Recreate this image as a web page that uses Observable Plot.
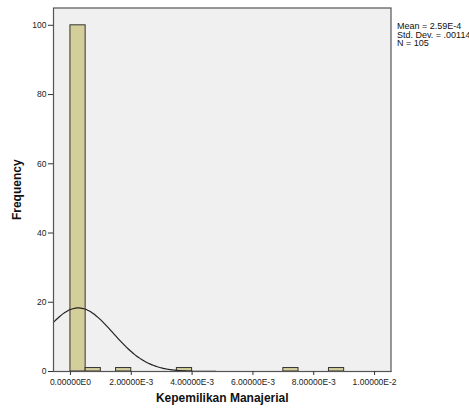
<!DOCTYPE html>
<html>
<head>
<meta charset="utf-8">
<script src="https://cdn.jsdelivr.net/npm/d3@7"></script>
<script src="https://cdn.jsdelivr.net/npm/@observablehq/plot@0.6"></script>
<style>
  html, body { margin: 0; padding: 0; background: #fff; overflow: hidden; }
  #chart { position: relative; width: 469px; height: 412px; overflow: hidden; }
  #legend { position: absolute; left: 397px; top: 22px; font: 9px "Liberation Sans", Arial, sans-serif; color: #111; line-height: 8.5px; white-space: nowrap; }
</style>
</head>
<body>
<div id="chart"><div id="legend"></div></div>
<script>
// Histogram bins (lower edge, upper edge) and counts
const binStart = [0.0000, 0.0005, 0.0015, 0.0035, 0.0070, 0.0085];
const binEnd   = [0.0005, 0.0010, 0.0020, 0.0040, 0.0075, 0.0090];
const counts   = [100, 1, 1, 1, 1, 1];
// Summary statistics shown in the legend
const statLabels = ["Mean = 2.59E-4", "Std. Dev. = .00114", "N = 105"];
const mean = 0.000259, sd = 0.00114, n = 105, binWidth = 0.0005;
// Tick labels
const xTicks = [0, 0.002, 0.004, 0.006, 0.008, 0.01];
const xTickLabels = ["0.00000E0", "2.00000E-3", "4.00000E-3", "6.00000E-3", "8.00000E-3", "1.00000E-2"];
const yTicks = [0, 20, 40, 60, 80, 100];

const bars = binStart.map((s, i) => ({x1: s, x2: binEnd[i], y: counts[i]}));
const xDomain = [-0.000557, 0.01054];
// Fitted normal curve from the stated mean / std. dev. / N
const curve = d3.range(0, 201).map(i => {
  const x = xDomain[0] + (xDomain[1] - xDomain[0]) * i / 200;
  const z = (x - mean) / sd;
  return {x, y: n * binWidth / (sd * Math.sqrt(2 * Math.PI)) * Math.exp(-0.5 * z * z)};
});

const font = '"Liberation Sans", Arial, sans-serif';
const chart = Plot.plot({
  width: 469, height: 412,
  marginLeft: 53, marginRight: 78.5, marginTop: 7.5, marginBottom: 41,
  style: {fontFamily: font, fontSize: "8.5px", color: "#222", background: "#fff"},
  x: {domain: xDomain, label: null},
  y: {domain: [0, 105], label: null},
  marks: [
    Plot.frame({fill: "#f0f0f0", stroke: "none"}),
    Plot.rectY(bars, {x1: "x1", x2: "x2", y: "y", fill: "#d4cf9a", stroke: "#333", strokeWidth: 1}),
    Plot.line(curve, {x: "x", y: "y", stroke: "#222", strokeWidth: 1.2, curve: "basis"}),
    Plot.frame({stroke: "#555", strokeWidth: 1.2}),
    Plot.axisX({ticks: xTicks, tickFormat: (d, i) => xTickLabels[i], tickSize: 4, tickPadding: 3, stroke: "#333", fill: "#222", label: null}),
    Plot.axisY({ticks: yTicks, tickSize: 5, tickPadding: 2, stroke: "#333", fill: "#222", label: null}),
    Plot.text(["Kepemilikan Manajerial"], {frameAnchor: "bottom", dy: 30, text: d => d, fontWeight: "bold", fontSize: 12, fill: "#111"}),
    Plot.text(["Frequency"], {frameAnchor: "left", dx: -36, rotate: -90, textAnchor: "middle", text: d => d, fontWeight: "bold", fontSize: 12, fill: "#111"})
  ]
});
document.getElementById("chart").prepend(chart);
document.getElementById("legend").innerHTML = statLabels.map(s => `<div>${s}</div>`).join("");
</script>
</body>
</html>
